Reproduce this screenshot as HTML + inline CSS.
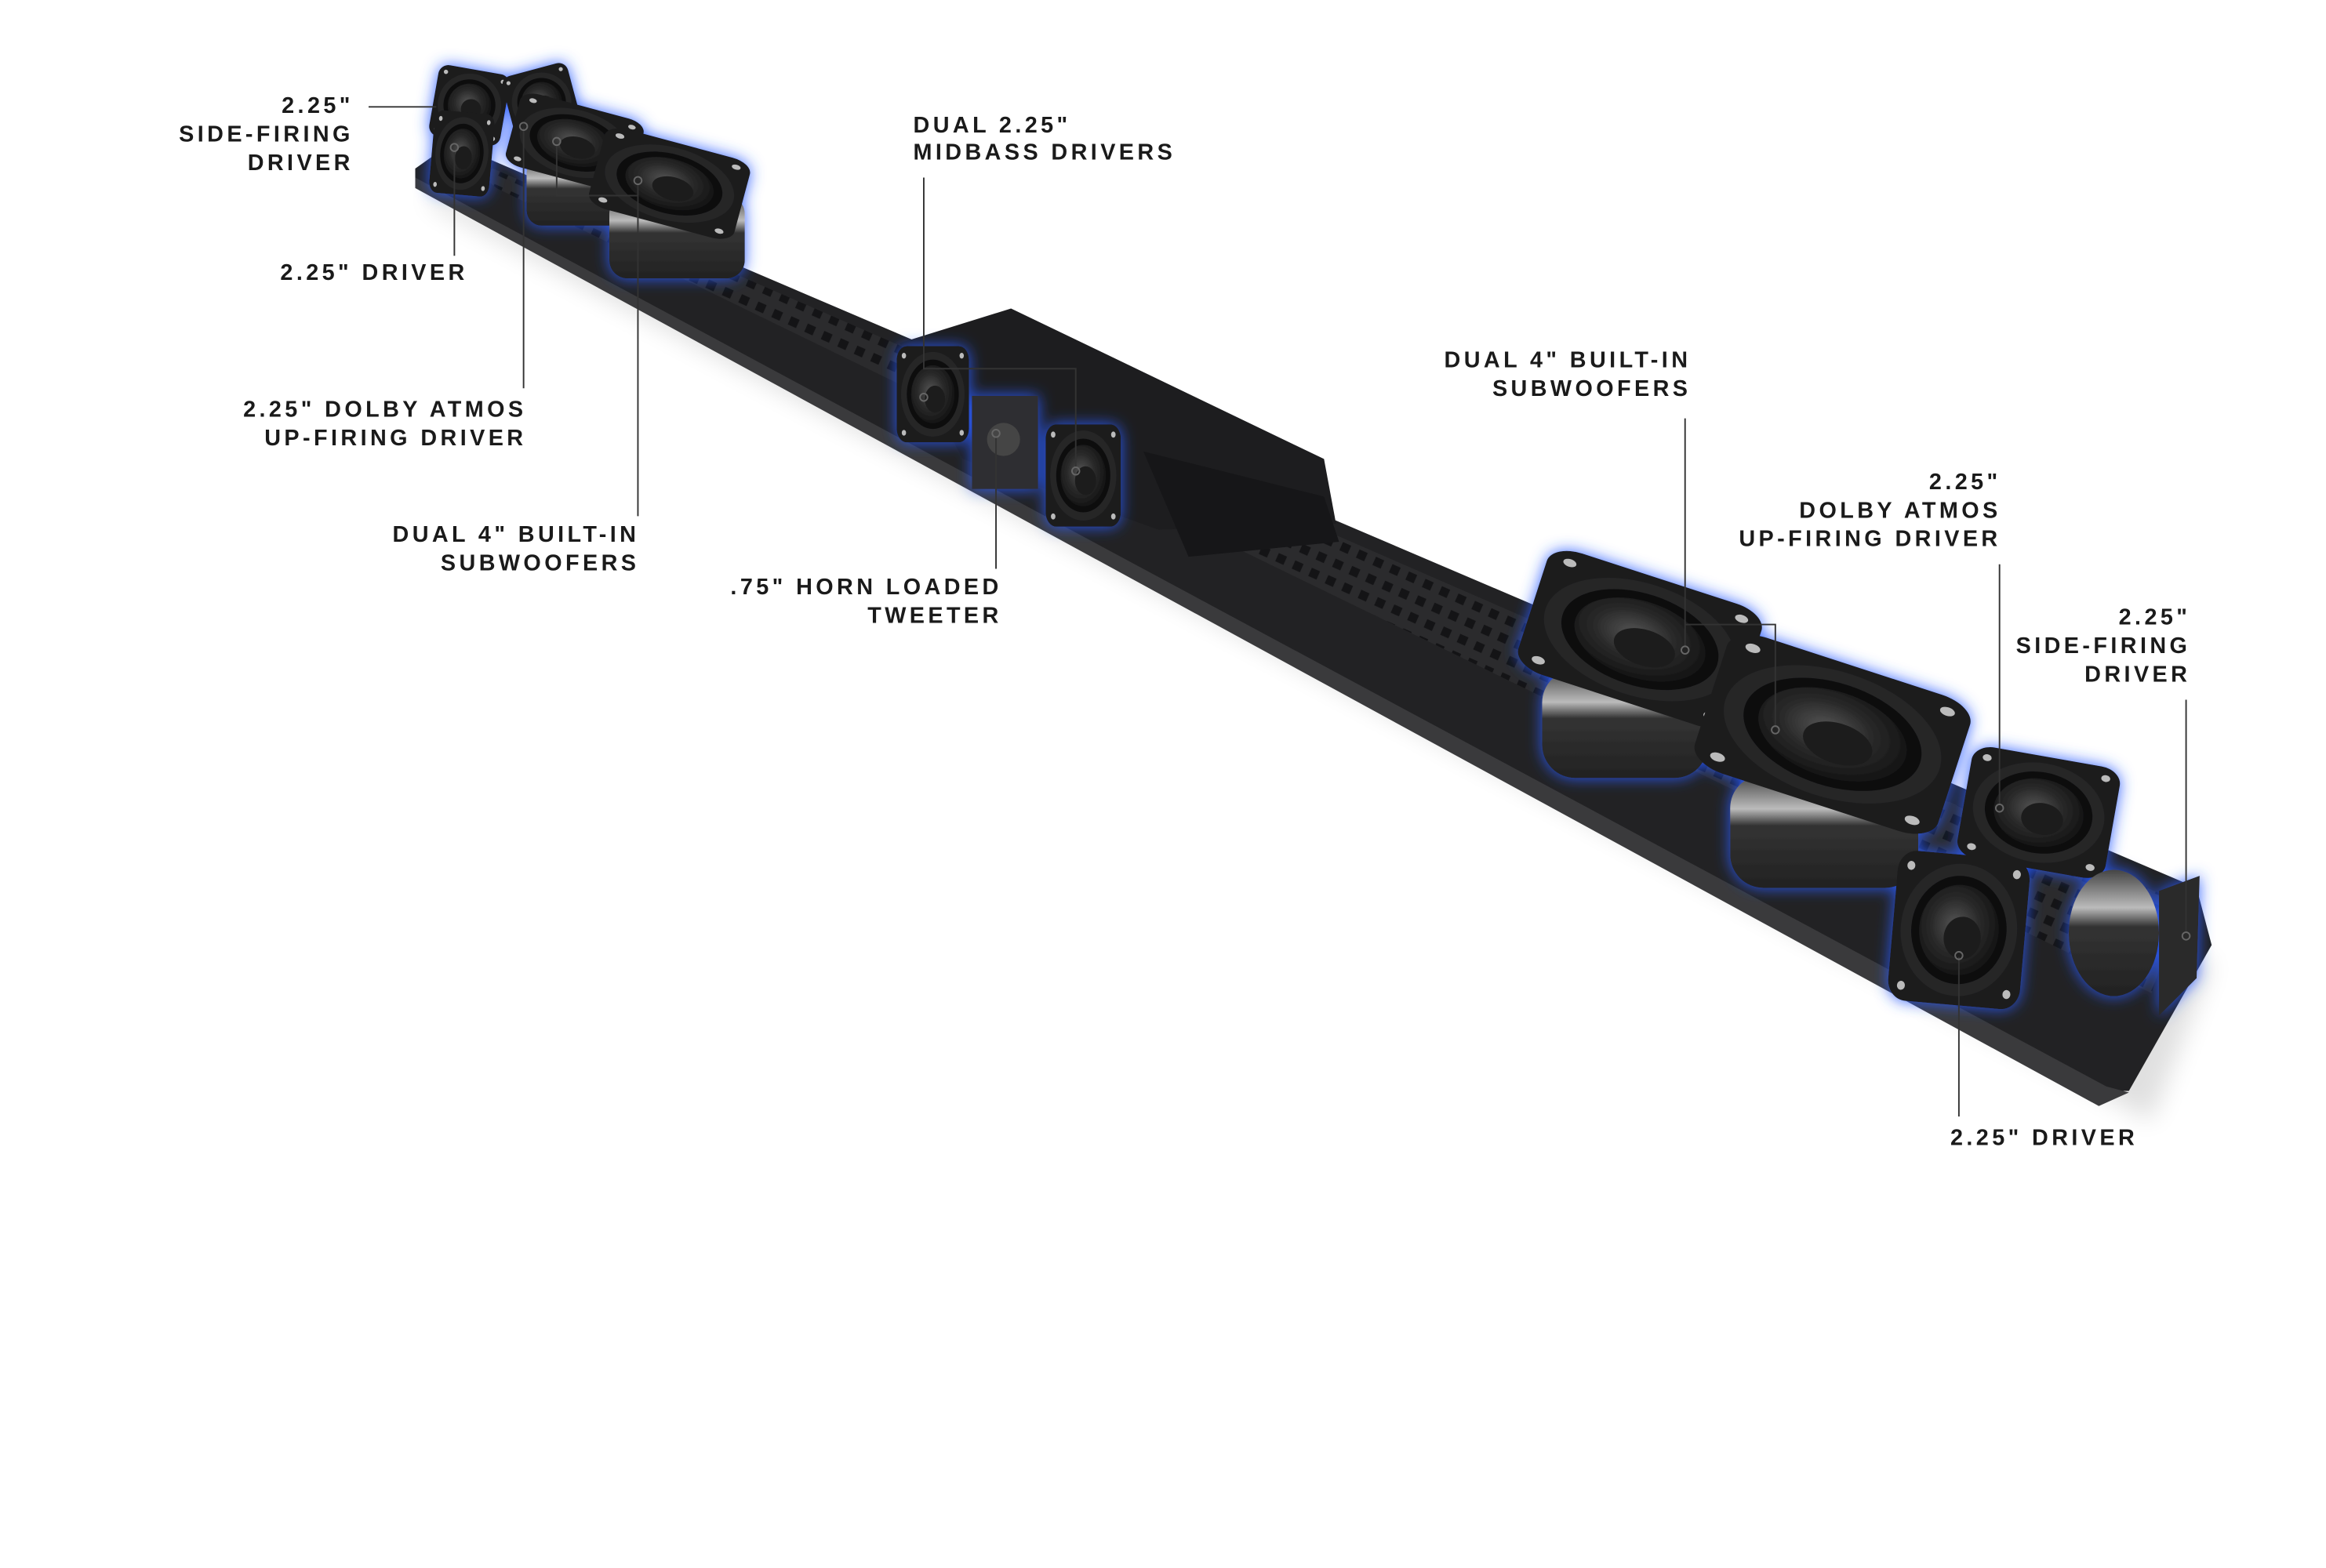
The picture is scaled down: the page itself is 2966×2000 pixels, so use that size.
<!DOCTYPE html>
<html><head><meta charset="utf-8"><style>
html,body{margin:0;padding:0;background:#fff;}
svg{display:block}
text{font-family:"Liberation Sans",sans-serif;font-weight:bold;font-size:15px;letter-spacing:2.3px;fill:#1a1a1a}
</style></head><body>
<svg width="2966" height="2000" viewBox="0 0 1546 1042" preserveAspectRatio="none" xmlns="http://www.w3.org/2000/svg">
<defs>
<filter id="glow" x="-40%" y="-40%" width="180%" height="180%">
<feGaussianBlur in="SourceAlpha" stdDeviation="5" result="b"/>
<feFlood flood-color="#2a5cff" flood-opacity="0.95"/>
<feComposite in2="b" operator="in" result="g"/>
<feMerge><feMergeNode in="g"/><feMergeNode in="SourceGraphic"/></feMerge>
</filter>
<filter id="sh" x="-10%" y="-10%" width="130%" height="140%"><feGaussianBlur stdDeviation="8"/></filter>
<radialGradient id="cone" cx="45%" cy="45%" r="60%"><stop offset="0" stop-color="#555"/><stop offset="0.5" stop-color="#2a2a2a"/><stop offset="1" stop-color="#111"/></radialGradient>
<linearGradient id="cyl" x1="0" y1="0" x2="0" y2="1"><stop offset="0" stop-color="#444"/><stop offset="0.3" stop-color="#bbb"/><stop offset="0.45" stop-color="#333"/><stop offset="1" stop-color="#222"/></linearGradient>
<pattern id="honey" width="12" height="12" patternUnits="userSpaceOnUse" patternTransform="rotate(24)">
<rect width="12" height="12" fill="#2b2b2d"/><rect x="2" y="2" width="6" height="6" fill="#141416"/>
</pattern>
<g id="spk">
<rect x="-50" y="-50" width="100" height="100" rx="14" fill="#1c1c1e"/>
<circle cx="-40" cy="-40" r="3" fill="#bbb"/><circle cx="40" cy="-40" r="3" fill="#bbb"/><circle cx="-40" cy="40" r="3" fill="#bbb"/><circle cx="40" cy="40" r="3" fill="#bbb"/>
<circle r="44" fill="#262628"/>
<circle r="36" fill="#0e0e10"/>
<circle r="30" fill="url(#cone)"/>
<circle cx="3" cy="5" r="14" fill="#1a1a1a"/>
</g>
</defs>
<rect width="1546" height="1042" fill="#fff"/>
<polygon points="290,125 1470,640 1430,745 285,135" fill="#000" opacity="0.12" filter="url(#sh)"/>
<polygon points="276,112 300,95 1460,590 1470,628 1415,725 1395,725 276,122" fill="#222224"/>
<polygon points="300,100 1450,600 1430,660 330,125" fill="url(#honey)"/>
<polygon points="276,118 1400,722 1415,726 1395,735 276,125" fill="#3a3a3c"/>
<polygon points="598,228 672,205 880,305 888,348 770,352 640,305" fill="#1d1d1f"/>
<polygon points="760,300 880,330 890,360 790,370" fill="#161618"/>
<g filter="url(#glow)">
<g transform="translate(312,70) rotate(10) scale(0.48,0.48)"><use href="#spk"/></g>
<g transform="translate(360,68) rotate(-15) scale(0.45)"><use href="#spk"/></g>
<g transform="translate(307,102) rotate(5) scale(0.4,0.55)"><use href="#spk"/></g>
<rect x="350" y="105" width="70" height="45" rx="10" fill="url(#cyl)"/>
<g transform="translate(382,95) rotate(15) scale(0.85,0.5)"><use href="#spk"/></g>
<rect x="405" y="130" width="90" height="55" rx="12" fill="url(#cyl)"/>
<g transform="translate(445,122) rotate(15) scale(1.0,0.55)"><use href="#spk"/></g>
</g>
<g filter="url(#glow)">
<g transform="translate(620,262) scale(0.48,0.64)"><use href="#spk"/></g>
<rect x="646" y="263" width="44" height="62" fill="#2e2e30"/>
<circle cx="667" cy="292" r="11" fill="#444"/>
<g transform="translate(720,316) scale(0.5,0.68)"><use href="#spk"/></g>
</g>
<g filter="url(#glow)">
<rect x="1025" y="445" width="110" height="72" rx="22" fill="url(#cyl)"/>
<g transform="translate(1090,425) rotate(18) scale(1.5,0.85)"><use href="#spk"/></g>
<rect x="1150" y="515" width="125" height="75" rx="22" fill="url(#cyl)"/>
<g transform="translate(1218,488) rotate(18) scale(1.7,0.95)"><use href="#spk"/></g>
<g transform="translate(1355,540) rotate(10) scale(1.0,0.75)"><use href="#spk"/></g>
<g transform="translate(1302,618) rotate(5) scale(0.88,1.0)"><use href="#spk"/></g>
<ellipse cx="1405" cy="620" rx="30" ry="42" fill="url(#cyl)"/>
<polygon points="1435,592 1462,582 1460,650 1435,675" fill="#2a2a2c"/>
</g>
<g stroke="#333" stroke-width="1" fill="none">
<polyline points="245,71 290,71"/>
<polyline points="302,100 302,170"/>
<polyline points="348,85 348,258"/>
<polyline points="370,95 370,130 424,130"/>
<polyline points="424,122 424,343"/>
<polyline points="614,118 614,245 715,245 715,310"/>
<polyline points="662,290 662,378"/>
<polyline points="1120,278 1120,430"/>
<polyline points="1120,415 1180,415 1180,483"/>
<polyline points="1329,375 1329,535"/>
<polyline points="1453,465 1453,620"/>
<polyline points="1302,636 1302,742"/>
</g>
<g fill="none" stroke="#666" stroke-width="1">
<circle cx="302" cy="98" r="2.5"/><circle cx="348" cy="84" r="2.5"/><circle cx="370" cy="94" r="2.5"/><circle cx="424" cy="120" r="2.5"/>
<circle cx="614" cy="264" r="2.5"/><circle cx="715" cy="313" r="2.5"/><circle cx="662" cy="288" r="2.5"/>
<circle cx="1120" cy="432" r="2.5"/><circle cx="1180" cy="485" r="2.5"/><circle cx="1329" cy="537" r="2.5"/><circle cx="1453" cy="622" r="2.5"/><circle cx="1302" cy="635" r="2.5"/>
</g>
<g text-anchor="end">
<text x="235" y="75">2.25"</text><text x="235" y="94">SIDE-FIRING</text><text x="235" y="113">DRIVER</text>
<text x="311" y="186">2.25" DRIVER</text>
<text x="350" y="277">2.25" DOLBY ATMOS</text><text x="350" y="296">UP-FIRING DRIVER</text>
<text x="425" y="360">DUAL 4" BUILT-IN</text><text x="425" y="379">SUBWOOFERS</text>
<text x="666" y="395">.75" HORN LOADED</text><text x="666" y="414">TWEETER</text>
<text x="1124" y="244">DUAL 4" BUILT-IN</text><text x="1124" y="263">SUBWOOFERS</text>
<text x="1330" y="325">2.25"</text><text x="1330" y="344">DOLBY ATMOS</text><text x="1330" y="363">UP-FIRING DRIVER</text>
<text x="1456" y="415">2.25"</text><text x="1456" y="434">SIDE-FIRING</text><text x="1456" y="453">DRIVER</text>
<text x="1421" y="761">2.25" DRIVER</text>
</g>
<text x="607" y="88">DUAL 2.25"</text><text x="607" y="106">MIDBASS DRIVERS</text>
</svg>
</body></html>
